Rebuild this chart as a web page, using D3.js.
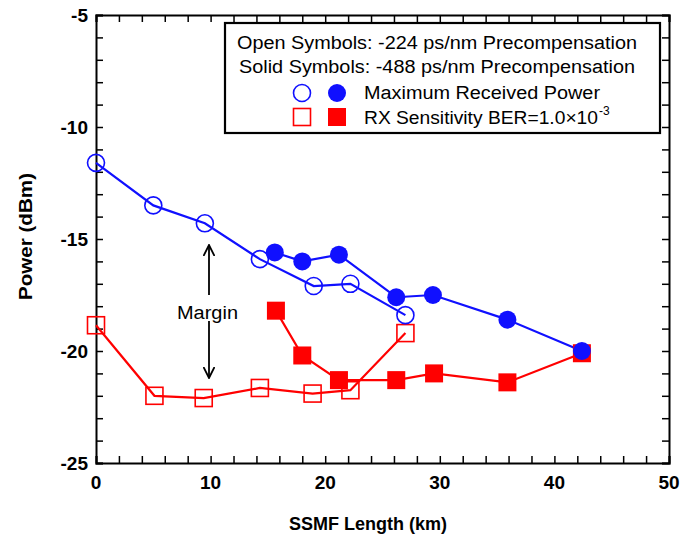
<!DOCTYPE html>
<html><head><meta charset="utf-8">
<script src="https://cdn.jsdelivr.net/npm/d3@7/dist/d3.min.js"></script>
<style>body{margin:0;background:#fff}svg{display:block}text{font-family:"Liberation Sans",Arial,sans-serif}</style>
</head><body><svg id="c" width="683" height="536"></svg>
<script>
const openCircleX = [0, 5, 9.5, 14.3, 19, 22.2, 27];
const openCircleY = [-11.6, -13.5, -14.3, -15.9, -17.1, -17.0, -18.4];
const solidCircleX = [15.6, 18, 21.2, 26.2, 29.4, 35.9, 42.4];
const solidCircleY = [-15.6, -16.0, -15.7, -17.6, -17.5, -18.6, -20.0];
const openSquareX = [0, 5.1, 9.4, 14.3, 18.9, 22.2, 27];
const openSquareY = [-18.85, -22.0, -22.1, -21.65, -21.9, -21.75, -19.2];
const solidSquareX = [15.7, 18.0, 21.2, 26.2, 29.5, 35.9, 42.4];
const solidSquareY = [-18.2, -20.2, -21.3, -21.3, -21.0, -21.4, -20.1];
const xTicks = [0, 10, 20, 30, 40, 50];
const yTicks = [-5, -10, -15, -20, -25];
const legendLines = ["Open Symbols: -224 ps/nm Precompensation", "Solid Symbols: -488 ps/nm Precompensation"];

const svg = d3.select("#c");
const L = 96, R = 669, T = 15, B = 463;
const x = d3.scaleLinear().domain([0, 50]).range([L, R]);
const y = d3.scaleLinear().domain([-25, -5]).range([B, T]);
const blue = "#1010ff", red = "#ff0000";

// Axes (ticks inward, all four sides)
const minorX = d3.range(0, 50.01, 2);
const minorY = d3.range(-25, -4.99, 1);
const axB = d3.axisBottom(x).tickValues(minorX).tickSize(-7).tickFormat("");
const axT = d3.axisTop(x).tickValues(minorX).tickSize(-7).tickFormat("");
const axL = d3.axisLeft(y).tickValues(minorY).tickSize(-7).tickFormat("");
const axR = d3.axisRight(y).tickValues(minorY).tickSize(-7).tickFormat("");
[[axB, `translate(0,${B})`], [axT, `translate(0,${T})`], [axL, `translate(${L},0)`], [axR, `translate(${R},0)`]].forEach(([a, t]) => {
  const g = svg.append("g").attr("transform", t).call(a);
  g.select(".domain").attr("stroke", "#000").attr("stroke-width", 2);
  g.selectAll(".tick line").attr("stroke", "#000").attr("stroke-width", 1.5);
});
// Major tick labels
svg.append("g").selectAll("text").data(xTicks).join("text")
  .attr("x", d => x(d)).attr("y", B + 26).attr("text-anchor", "middle")
  .attr("font-size", 19).attr("font-weight", "bold").text(d => d);
svg.append("g").selectAll("text").data(yTicks).join("text")
  .attr("x", L - 8).attr("y", d => y(d) + 7).attr("text-anchor", "end")
  .attr("font-size", 19).attr("font-weight", "bold").text(d => d);

svg.append("text").attr("x", 368).attr("y", 530).attr("text-anchor", "middle")
  .attr("font-size", 18).attr("font-weight", "bold").text("SSMF Length (km)");
svg.append("text").attr("transform", `translate(32,237) rotate(-90)`).attr("x", -63)
  .attr("font-size", 19).attr("font-weight", "bold")
  .attr("textLength", 127).attr("lengthAdjust", "spacingAndGlyphs").text("Power (dBm)");

const line = d3.line().x(d => x(d[0])).y(d => y(d[1]));
const zip = (a, b) => a.map((v, i) => [v, b[i]]);
const series = [
  {xs: openSquareX, ys: openSquareY, c: red, shape: "sq", fill: false},
  {xs: solidSquareX, ys: solidSquareY, c: red, shape: "sq", fill: true},
  {xs: openCircleX, ys: openCircleY, c: blue, shape: "ci", fill: false},
  {xs: solidCircleX, ys: solidCircleY, c: blue, shape: "ci", fill: true},
];
series.forEach(s => {
  svg.append("path").datum(zip(s.xs, s.ys)).attr("d", line)
    .attr("fill", "none").attr("stroke", s.c).attr("stroke-width", 2.2);
});
function marker(g, cx, cy, s) {
  if (s.shape === "ci") {
    g.append("circle").attr("cx", cx).attr("cy", cy).attr("r", s.fill ? 9 : 8.5)
      .attr("fill", s.fill ? s.c : "none").attr("stroke", s.c).attr("stroke-width", s.fill ? 0 : 1.6);
  } else {
    const h = s.fill ? 9 : 8.5;
    g.append("rect").attr("x", cx - h).attr("y", cy - h).attr("width", 2 * h).attr("height", 2 * h)
      .attr("fill", s.fill ? s.c : "none").attr("stroke", s.c).attr("stroke-width", s.fill ? 0 : 1.6);
  }
}
series.forEach(s => {
  const g = svg.append("g");
  zip(s.xs, s.ys).forEach(d => marker(g, x(d[0]), y(d[1]), s));
});

// Margin annotation
svg.append("defs").append("marker").attr("id", "ah").attr("viewBox", "0 0 12 12")
  .attr("refX", 11).attr("refY", 6).attr("markerWidth", 12).attr("markerHeight", 12)
  .attr("markerUnits", "userSpaceOnUse").attr("orient", "auto")
  .append("path").attr("d", "M0,0.5 L11,6 L0,11.5").attr("fill", "none").attr("stroke", "#000").attr("stroke-width", 1.8);
const ax = 209;
svg.append("line").attr("x1", ax).attr("x2", ax).attr("y1", 295).attr("y2", 245)
  .attr("stroke", "#000").attr("stroke-width", 1.8).attr("marker-end", "url(#ah)");
svg.append("line").attr("x1", ax).attr("x2", ax).attr("y1", 321).attr("y2", 378)
  .attr("stroke", "#000").attr("stroke-width", 1.8).attr("marker-end", "url(#ah)");
svg.append("text").attr("x", 177).attr("y", 319).attr("font-size", 18)
  .attr("textLength", 61).attr("lengthAdjust", "spacingAndGlyphs").text("Margin");

// Legend
const lg = svg.append("g");
lg.append("rect").attr("x", 225).attr("y", 23).attr("width", 435).attr("height", 110)
  .attr("fill", "#fff").attr("stroke", "#000").attr("stroke-width", 2.2);
const lgX = [237, 239], lgW = [400, 396];
legendLines.forEach((t, i) => lg.append("text").attr("x", lgX[i]).attr("y", 49 + i * 24)
  .attr("font-size", 18).attr("textLength", lgW[i]).attr("lengthAdjust", "spacingAndGlyphs").text(t));
marker(lg, 302, 93, {shape: "ci", c: blue, fill: false});
marker(lg, 337, 93, {shape: "ci", c: blue, fill: true});
marker(lg, 302, 117, {shape: "sq", c: red, fill: false});
marker(lg, 337, 117, {shape: "sq", c: red, fill: true});
lg.append("text").attr("x", 364).attr("y", 99).attr("font-size", 18)
  .attr("textLength", 236).attr("lengthAdjust", "spacingAndGlyphs").text("Maximum Received Power");
lg.append("text").attr("x", 364).attr("y", 124).attr("font-size", 18)
  .attr("textLength", 234).attr("lengthAdjust", "spacingAndGlyphs").text("RX Sensitivity BER=1.0×10");
lg.append("text").attr("x", 599).attr("y", 115).attr("font-size", 12).text("-3");
</script></body></html>
